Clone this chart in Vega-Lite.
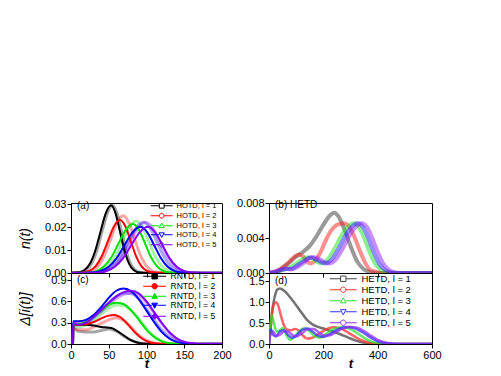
{
"$schema":"https://vega.github.io/schema/vega-lite/v6.json",
"padding":{"left":17,"top":196,"right":5,"bottom":0},
"background":"white",
"config":{"font":"Liberation Sans","view":{"stroke":"#000","strokeWidth":1},
"axis":{"labelFont":"Liberation Sans","labelFontSize":11,"labelColor":"#000","tickColor":"#000","domainColor":"#000","grid":false,"titleFont":"Liberation Sans","titleColor":"#000","titleFontSize":14,"titleFontStyle":"italic","titleFontWeight":"normal","tickSize":4,"labelFlush":false,"labelPadding":1}},
"resolve":{"scale":{"color":"independent","fill":"independent","shape":"independent","stroke":"independent","x":"independent","y":"independent"},"legend":{"color":"independent","fill":"independent","shape":"independent","stroke":"independent"}},
"datasets":{
"a":[
{"s":1,"k":"d","t":0,"v":0},{"s":1,"k":"d","t":4,"v":0.0001},{"s":1,"k":"d","t":11,"v":0.0003},{"s":1,"k":"d","t":18,"v":0.0013},{"s":1,"k":"d","t":25,"v":0.004},{"s":1,"k":"d","t":32,"v":0.0096},{"s":1,"k":"d","t":39,"v":0.0179},{"s":1,"k":"d","t":46,"v":0.026},{"s":1,"k":"d","t":53,"v":0.0295},{"s":1,"k":"d","t":59,"v":0.026},{"s":1,"k":"d","t":65,"v":0.0179},{"s":1,"k":"d","t":71,"v":0.0096},{"s":1,"k":"d","t":77,"v":0.004},{"s":1,"k":"d","t":83,"v":0.0013},{"s":1,"k":"d","t":89,"v":0.0003},{"s":1,"k":"d","t":95,"v":0.0001},{"s":1,"k":"d","t":110,"v":0},{"s":1,"k":"d","t":200,"v":0},
{"s":1,"k":"l","t":0,"v":0},{"s":1,"k":"l","t":6,"v":0.0001},{"s":1,"k":"l","t":13,"v":0.0003},{"s":1,"k":"l","t":20,"v":0.0013},{"s":1,"k":"l","t":27,"v":0.004},{"s":1,"k":"l","t":34,"v":0.0096},{"s":1,"k":"l","t":41,"v":0.0179},{"s":1,"k":"l","t":48,"v":0.026},{"s":1,"k":"l","t":55,"v":0.0295},{"s":1,"k":"l","t":61,"v":0.026},{"s":1,"k":"l","t":67,"v":0.0179},{"s":1,"k":"l","t":73,"v":0.0096},{"s":1,"k":"l","t":79,"v":0.004},{"s":1,"k":"l","t":85,"v":0.0013},{"s":1,"k":"l","t":91,"v":0.0003},{"s":1,"k":"l","t":97,"v":0.0001},{"s":1,"k":"l","t":110,"v":0},{"s":1,"k":"l","t":200,"v":0},
{"s":2,"k":"d","t":0,"v":0},{"s":2,"k":"d","t":9,"v":0.0001},{"s":2,"k":"d","t":17,"v":0.0003},{"s":2,"k":"d","t":25,"v":0.001},{"s":2,"k":"d","t":33,"v":0.0031},{"s":2,"k":"d","t":41,"v":0.0075},{"s":2,"k":"d","t":49,"v":0.014},{"s":2,"k":"d","t":57,"v":0.0204},{"s":2,"k":"d","t":65,"v":0.0231},{"s":2,"k":"d","t":72,"v":0.0204},{"s":2,"k":"d","t":79,"v":0.014},{"s":2,"k":"d","t":86,"v":0.0075},{"s":2,"k":"d","t":93,"v":0.0031},{"s":2,"k":"d","t":100,"v":0.001},{"s":2,"k":"d","t":107,"v":0.0003},{"s":2,"k":"d","t":114,"v":0.0001},{"s":2,"k":"d","t":130,"v":0},{"s":2,"k":"d","t":200,"v":0},
{"s":2,"k":"l","t":0,"v":0},{"s":2,"k":"l","t":13,"v":0.0001},{"s":2,"k":"l","t":21,"v":0.0003},{"s":2,"k":"l","t":29,"v":0.0011},{"s":2,"k":"l","t":37,"v":0.0034},{"s":2,"k":"l","t":45,"v":0.0081},{"s":2,"k":"l","t":53,"v":0.0151},{"s":2,"k":"l","t":61,"v":0.022},{"s":2,"k":"l","t":69,"v":0.0249},{"s":2,"k":"l","t":76.5,"v":0.022},{"s":2,"k":"l","t":84,"v":0.0151},{"s":2,"k":"l","t":91.5,"v":0.0081},{"s":2,"k":"l","t":99,"v":0.0034},{"s":2,"k":"l","t":106.5,"v":0.0011},{"s":2,"k":"l","t":114,"v":0.0003},{"s":2,"k":"l","t":121.5,"v":0.0001},{"s":2,"k":"l","t":135,"v":0},{"s":2,"k":"l","t":200,"v":0},
{"s":3,"k":"d","t":0,"v":0},{"s":3,"k":"d","t":15,"v":0.0001},{"s":3,"k":"d","t":25,"v":0.0002},{"s":3,"k":"d","t":34.5,"v":0.0009},{"s":3,"k":"d","t":44,"v":0.0029},{"s":3,"k":"d","t":53.5,"v":0.0069},{"s":3,"k":"d","t":63,"v":0.0129},{"s":3,"k":"d","t":72.5,"v":0.0188},{"s":3,"k":"d","t":82,"v":0.0213},{"s":3,"k":"d","t":90,"v":0.0188},{"s":3,"k":"d","t":98,"v":0.0129},{"s":3,"k":"d","t":106,"v":0.0069},{"s":3,"k":"d","t":114,"v":0.0029},{"s":3,"k":"d","t":122,"v":0.0009},{"s":3,"k":"d","t":130,"v":0.0002},{"s":3,"k":"d","t":145,"v":0},{"s":3,"k":"d","t":200,"v":0},
{"s":3,"k":"l","t":0,"v":0},{"s":3,"k":"l","t":23,"v":0.0001},{"s":3,"k":"l","t":32,"v":0.0003},{"s":3,"k":"l","t":41,"v":0.001},{"s":3,"k":"l","t":50,"v":0.0031},{"s":3,"k":"l","t":59,"v":0.0074},{"s":3,"k":"l","t":68,"v":0.0138},{"s":3,"k":"l","t":77,"v":0.02},{"s":3,"k":"l","t":86,"v":0.0227},{"s":3,"k":"l","t":94.5,"v":0.02},{"s":3,"k":"l","t":103,"v":0.0138},{"s":3,"k":"l","t":111.5,"v":0.0074},{"s":3,"k":"l","t":120,"v":0.0031},{"s":3,"k":"l","t":128.5,"v":0.001},{"s":3,"k":"l","t":137,"v":0.0003},{"s":3,"k":"l","t":145.5,"v":0.0001},{"s":3,"k":"l","t":160,"v":0},{"s":3,"k":"l","t":200,"v":0},
{"s":4,"k":"d","t":0,"v":0},{"s":4,"k":"d","t":18,"v":0.0001},{"s":4,"k":"d","t":29,"v":0.0002},{"s":4,"k":"d","t":39.5,"v":0.0009},{"s":4,"k":"d","t":50,"v":0.0027},{"s":4,"k":"d","t":60.5,"v":0.0065},{"s":4,"k":"d","t":71,"v":0.0122},{"s":4,"k":"d","t":81.5,"v":0.0177},{"s":4,"k":"d","t":92,"v":0.0201},{"s":4,"k":"d","t":101,"v":0.0177},{"s":4,"k":"d","t":110,"v":0.0122},{"s":4,"k":"d","t":119,"v":0.0065},{"s":4,"k":"d","t":128,"v":0.0027},{"s":4,"k":"d","t":137,"v":0.0009},{"s":4,"k":"d","t":146,"v":0.0002},{"s":4,"k":"d","t":160,"v":0},{"s":4,"k":"d","t":200,"v":0},
{"s":4,"k":"l","t":0,"v":0},{"s":4,"k":"l","t":26,"v":0.0001},{"s":4,"k":"l","t":36,"v":0.0002},{"s":4,"k":"l","t":46,"v":0.001},{"s":4,"k":"l","t":56,"v":0.003},{"s":4,"k":"l","t":66,"v":0.0072},{"s":4,"k":"l","t":76,"v":0.0134},{"s":4,"k":"l","t":86,"v":0.0195},{"s":4,"k":"l","t":96,"v":0.0221},{"s":4,"k":"l","t":105,"v":0.0195},{"s":4,"k":"l","t":114,"v":0.0134},{"s":4,"k":"l","t":123,"v":0.0072},{"s":4,"k":"l","t":132,"v":0.003},{"s":4,"k":"l","t":141,"v":0.001},{"s":4,"k":"l","t":150,"v":0.0002},{"s":4,"k":"l","t":165,"v":0},{"s":4,"k":"l","t":200,"v":0},
{"s":5,"k":"d","t":0,"v":0},{"s":5,"k":"d","t":25,"v":0.0001},{"s":5,"k":"d","t":36,"v":0.0002},{"s":5,"k":"d","t":47,"v":0.0009},{"s":5,"k":"d","t":58,"v":0.0027},{"s":5,"k":"d","t":69,"v":0.0065},{"s":5,"k":"d","t":80,"v":0.0122},{"s":5,"k":"d","t":91,"v":0.0177},{"s":5,"k":"d","t":102,"v":0.0201},{"s":5,"k":"d","t":111.5,"v":0.0177},{"s":5,"k":"d","t":121,"v":0.0122},{"s":5,"k":"d","t":130.5,"v":0.0065},{"s":5,"k":"d","t":140,"v":0.0027},{"s":5,"k":"d","t":149.5,"v":0.0009},{"s":5,"k":"d","t":159,"v":0.0002},{"s":5,"k":"d","t":175,"v":0},{"s":5,"k":"d","t":200,"v":0},
{"s":5,"k":"l","t":0,"v":0},{"s":5,"k":"l","t":25,"v":0.0001},{"s":5,"k":"l","t":36,"v":0.0002},{"s":5,"k":"l","t":46.5,"v":0.001},{"s":5,"k":"l","t":57,"v":0.003},{"s":5,"k":"l","t":67.5,"v":0.0072},{"s":5,"k":"l","t":78,"v":0.0134},{"s":5,"k":"l","t":88.5,"v":0.0195},{"s":5,"k":"l","t":99,"v":0.0221},{"s":5,"k":"l","t":108.5,"v":0.0195},{"s":5,"k":"l","t":118,"v":0.0134},{"s":5,"k":"l","t":127.5,"v":0.0072},{"s":5,"k":"l","t":137,"v":0.003},{"s":5,"k":"l","t":146.5,"v":0.001},{"s":5,"k":"l","t":156,"v":0.0002},{"s":5,"k":"l","t":170,"v":0},{"s":5,"k":"l","t":200,"v":0}
],
"b":[
{"s":1,"t":0,"v":0},{"s":1,"t":25,"v":0.0001},{"s":1,"t":50,"v":0.0006},{"s":1,"t":75,"v":0.0012},{"s":1,"t":100,"v":0.0019},{"s":1,"t":125,"v":0.0024},{"s":1,"t":150,"v":0.0031},{"s":1,"t":175,"v":0.0042},{"s":1,"t":200,"v":0.0055},{"s":1,"t":225,"v":0.0066},{"s":1,"t":240,"v":0.0069},{"s":1,"t":255,"v":0.0065},{"s":1,"t":275,"v":0.0052},{"s":1,"t":300,"v":0.0031},{"s":1,"t":325,"v":0.0013},{"s":1,"t":350,"v":0.0004},{"s":1,"t":375,"v":0.0001},{"s":1,"t":400,"v":0},{"s":1,"t":600,"v":0},
{"s":2,"t":0,"v":0},{"s":2,"t":25,"v":0.0002},{"s":2,"t":50,"v":0.0006},{"s":2,"t":75,"v":0.0013},{"s":2,"t":100,"v":0.002},{"s":2,"t":112,"v":0.0021},{"s":2,"t":125,"v":0.0019},{"s":2,"t":140,"v":0.0013},{"s":2,"t":155,"v":0.0011},{"s":2,"t":170,"v":0.0014},{"s":2,"t":190,"v":0.0024},{"s":2,"t":210,"v":0.0038},{"s":2,"t":230,"v":0.0049},{"s":2,"t":250,"v":0.0055},{"s":2,"t":275,"v":0.0057},{"s":2,"t":295,"v":0.0053},{"s":2,"t":315,"v":0.0041},{"s":2,"t":335,"v":0.0025},{"s":2,"t":355,"v":0.0011},{"s":2,"t":375,"v":0.0003},{"s":2,"t":400,"v":0.0001},{"s":2,"t":425,"v":0},{"s":2,"t":600,"v":0},
{"s":3,"t":0,"v":0},{"s":3,"t":25,"v":0.0001},{"s":3,"t":50,"v":0.0003},{"s":3,"t":75,"v":0.0006},{"s":3,"t":100,"v":0.0011},{"s":3,"t":125,"v":0.0016},{"s":3,"t":140,"v":0.0018},{"s":3,"t":160,"v":0.0016},{"s":3,"t":180,"v":0.0012},{"s":3,"t":195,"v":0.0011},{"s":3,"t":215,"v":0.0015},{"s":3,"t":240,"v":0.0027},{"s":3,"t":265,"v":0.0042},{"s":3,"t":290,"v":0.0053},{"s":3,"t":310,"v":0.0057},{"s":3,"t":330,"v":0.0053},{"s":3,"t":350,"v":0.004},{"s":3,"t":370,"v":0.0024},{"s":3,"t":390,"v":0.0011},{"s":3,"t":410,"v":0.0004},{"s":3,"t":430,"v":0.0001},{"s":3,"t":450,"v":0},{"s":3,"t":600,"v":0},
{"s":4,"t":0,"v":0},{"s":4,"t":25,"v":0.0001},{"s":4,"t":50,"v":0.0004},{"s":4,"t":65,"v":0.0005},{"s":4,"t":85,"v":0.0005},{"s":4,"t":100,"v":0.0008},{"s":4,"t":125,"v":0.0013},{"s":4,"t":155,"v":0.0018},{"s":4,"t":175,"v":0.0015},{"s":4,"t":195,"v":0.0012},{"s":4,"t":210,"v":0.0011},{"s":4,"t":230,"v":0.0015},{"s":4,"t":255,"v":0.0027},{"s":4,"t":280,"v":0.0042},{"s":4,"t":305,"v":0.0053},{"s":4,"t":325,"v":0.0057},{"s":4,"t":345,"v":0.0053},{"s":4,"t":365,"v":0.004},{"s":4,"t":385,"v":0.0024},{"s":4,"t":405,"v":0.0011},{"s":4,"t":425,"v":0.0004},{"s":4,"t":445,"v":0.0001},{"s":4,"t":465,"v":0},{"s":4,"t":600,"v":0},
{"s":5,"t":0,"v":0},{"s":5,"t":25,"v":0.0002},{"s":5,"t":45,"v":0.0004},{"s":5,"t":60,"v":0.0005},{"s":5,"t":80,"v":0.0004},{"s":5,"t":100,"v":0.0006},{"s":5,"t":125,"v":0.0011},{"s":5,"t":150,"v":0.0017},{"s":5,"t":168,"v":0.0018},{"s":5,"t":190,"v":0.0015},{"s":5,"t":210,"v":0.0012},{"s":5,"t":225,"v":0.0011},{"s":5,"t":245,"v":0.0015},{"s":5,"t":270,"v":0.0027},{"s":5,"t":295,"v":0.0042},{"s":5,"t":320,"v":0.0053},{"s":5,"t":340,"v":0.0057},{"s":5,"t":360,"v":0.0053},{"s":5,"t":380,"v":0.004},{"s":5,"t":400,"v":0.0024},{"s":5,"t":420,"v":0.0011},{"s":5,"t":440,"v":0.0004},{"s":5,"t":460,"v":0.0001},{"s":5,"t":480,"v":0},{"s":5,"t":600,"v":0}
],
"c":[
{"s":1,"k":"d","t":0,"v":0},{"s":1,"k":"d","t":2,"v":0},{"s":1,"k":"d","t":3,"v":0.27},{"s":1,"k":"d","t":10,"v":0.27},{"s":1,"k":"d","t":20,"v":0.27},{"s":1,"k":"d","t":30,"v":0.26},{"s":1,"k":"d","t":40,"v":0.24},{"s":1,"k":"d","t":50,"v":0.23},{"s":1,"k":"d","t":55,"v":0.22},{"s":1,"k":"d","t":60,"v":0.19},{"s":1,"k":"d","t":70,"v":0.12},{"s":1,"k":"d","t":80,"v":0.05},{"s":1,"k":"d","t":90,"v":0.015},{"s":1,"k":"d","t":100,"v":0.003},{"s":1,"k":"d","t":110,"v":0},{"s":1,"k":"d","t":200,"v":0},
{"s":1,"k":"l","t":0,"v":0},{"s":1,"k":"l","t":2,"v":0},{"s":1,"k":"l","t":3,"v":0.22},{"s":1,"k":"l","t":10,"v":0.18},{"s":1,"k":"l","t":20,"v":0.17},{"s":1,"k":"l","t":30,"v":0.17},{"s":1,"k":"l","t":40,"v":0.19},{"s":1,"k":"l","t":50,"v":0.21},{"s":1,"k":"l","t":60,"v":0.18},{"s":1,"k":"l","t":70,"v":0.11},{"s":1,"k":"l","t":80,"v":0.05},{"s":1,"k":"l","t":90,"v":0.015},{"s":1,"k":"l","t":100,"v":0.003},{"s":1,"k":"l","t":110,"v":0},{"s":1,"k":"l","t":200,"v":0},
{"s":2,"k":"d","t":0,"v":0},{"s":2,"k":"d","t":2,"v":0},{"s":2,"k":"d","t":3,"v":0.27},{"s":2,"k":"d","t":10,"v":0.27},{"s":2,"k":"d","t":20,"v":0.28},{"s":2,"k":"d","t":30,"v":0.31},{"s":2,"k":"d","t":40,"v":0.36},{"s":2,"k":"d","t":50,"v":0.4},{"s":2,"k":"d","t":57,"v":0.41},{"s":2,"k":"d","t":65,"v":0.38},{"s":2,"k":"d","t":75,"v":0.28},{"s":2,"k":"d","t":85,"v":0.16},{"s":2,"k":"d","t":95,"v":0.07},{"s":2,"k":"d","t":105,"v":0.02},{"s":2,"k":"d","t":115,"v":0.005},{"s":2,"k":"d","t":125,"v":0},{"s":2,"k":"d","t":200,"v":0},
{"s":2,"k":"l","t":0,"v":0},{"s":2,"k":"l","t":2,"v":0},{"s":2,"k":"l","t":3,"v":0.22},{"s":2,"k":"l","t":10,"v":0.2},{"s":2,"k":"l","t":20,"v":0.2},{"s":2,"k":"l","t":30,"v":0.24},{"s":2,"k":"l","t":40,"v":0.29},{"s":2,"k":"l","t":50,"v":0.34},{"s":2,"k":"l","t":60,"v":0.37},{"s":2,"k":"l","t":70,"v":0.33},{"s":2,"k":"l","t":80,"v":0.23},{"s":2,"k":"l","t":90,"v":0.12},{"s":2,"k":"l","t":100,"v":0.05},{"s":2,"k":"l","t":110,"v":0.015},{"s":2,"k":"l","t":120,"v":0.003},{"s":2,"k":"l","t":130,"v":0},{"s":2,"k":"l","t":200,"v":0},
{"s":3,"k":"d","t":0,"v":0},{"s":3,"k":"d","t":2,"v":0},{"s":3,"k":"d","t":3,"v":0.28},{"s":3,"k":"d","t":10,"v":0.28},{"s":3,"k":"d","t":20,"v":0.31},{"s":3,"k":"d","t":30,"v":0.38},{"s":3,"k":"d","t":40,"v":0.47},{"s":3,"k":"d","t":50,"v":0.55},{"s":3,"k":"d","t":60,"v":0.58},{"s":3,"k":"d","t":70,"v":0.56},{"s":3,"k":"d","t":80,"v":0.47},{"s":3,"k":"d","t":90,"v":0.34},{"s":3,"k":"d","t":100,"v":0.2},{"s":3,"k":"d","t":110,"v":0.1},{"s":3,"k":"d","t":120,"v":0.04},{"s":3,"k":"d","t":130,"v":0.01},{"s":3,"k":"d","t":140,"v":0},{"s":3,"k":"d","t":200,"v":0},
{"s":3,"k":"l","t":0,"v":0},{"s":3,"k":"l","t":2,"v":0},{"s":3,"k":"l","t":3,"v":0.25},{"s":3,"k":"l","t":10,"v":0.24},{"s":3,"k":"l","t":20,"v":0.27},{"s":3,"k":"l","t":30,"v":0.33},{"s":3,"k":"l","t":40,"v":0.42},{"s":3,"k":"l","t":50,"v":0.5},{"s":3,"k":"l","t":60,"v":0.55},{"s":3,"k":"l","t":70,"v":0.54},{"s":3,"k":"l","t":80,"v":0.47},{"s":3,"k":"l","t":90,"v":0.35},{"s":3,"k":"l","t":100,"v":0.22},{"s":3,"k":"l","t":110,"v":0.11},{"s":3,"k":"l","t":120,"v":0.04},{"s":3,"k":"l","t":130,"v":0.01},{"s":3,"k":"l","t":140,"v":0},{"s":3,"k":"l","t":200,"v":0},
{"s":4,"k":"d","t":0,"v":0},{"s":4,"k":"d","t":2,"v":0},{"s":4,"k":"d","t":3,"v":0.32},{"s":4,"k":"d","t":10,"v":0.32},{"s":4,"k":"d","t":20,"v":0.34},{"s":4,"k":"d","t":30,"v":0.41},{"s":4,"k":"d","t":40,"v":0.52},{"s":4,"k":"d","t":50,"v":0.65},{"s":4,"k":"d","t":60,"v":0.75},{"s":4,"k":"d","t":70,"v":0.78},{"s":4,"k":"d","t":80,"v":0.74},{"s":4,"k":"d","t":90,"v":0.63},{"s":4,"k":"d","t":100,"v":0.47},{"s":4,"k":"d","t":110,"v":0.31},{"s":4,"k":"d","t":120,"v":0.17},{"s":4,"k":"d","t":130,"v":0.08},{"s":4,"k":"d","t":140,"v":0.03},{"s":4,"k":"d","t":150,"v":0.01},{"s":4,"k":"d","t":160,"v":0},{"s":4,"k":"d","t":200,"v":0},
{"s":4,"k":"l","t":0,"v":0},{"s":4,"k":"l","t":2,"v":0},{"s":4,"k":"l","t":3,"v":0.27},{"s":4,"k":"l","t":10,"v":0.27},{"s":4,"k":"l","t":20,"v":0.3},{"s":4,"k":"l","t":30,"v":0.37},{"s":4,"k":"l","t":40,"v":0.47},{"s":4,"k":"l","t":50,"v":0.58},{"s":4,"k":"l","t":60,"v":0.67},{"s":4,"k":"l","t":70,"v":0.72},{"s":4,"k":"l","t":80,"v":0.71},{"s":4,"k":"l","t":90,"v":0.63},{"s":4,"k":"l","t":100,"v":0.49},{"s":4,"k":"l","t":110,"v":0.34},{"s":4,"k":"l","t":120,"v":0.2},{"s":4,"k":"l","t":130,"v":0.1},{"s":4,"k":"l","t":140,"v":0.04},{"s":4,"k":"l","t":150,"v":0.01},{"s":4,"k":"l","t":160,"v":0},{"s":4,"k":"l","t":200,"v":0},
{"s":5,"k":"d","t":0,"v":0},{"s":5,"k":"d","t":2,"v":0},{"s":5,"k":"d","t":3,"v":0.3},{"s":5,"k":"d","t":10,"v":0.27},{"s":5,"k":"d","t":20,"v":0.3},{"s":5,"k":"d","t":30,"v":0.38},{"s":5,"k":"d","t":40,"v":0.48},{"s":5,"k":"d","t":50,"v":0.58},{"s":5,"k":"d","t":60,"v":0.67},{"s":5,"k":"d","t":70,"v":0.73},{"s":5,"k":"d","t":80,"v":0.75},{"s":5,"k":"d","t":90,"v":0.71},{"s":5,"k":"d","t":100,"v":0.6},{"s":5,"k":"d","t":110,"v":0.45},{"s":5,"k":"d","t":120,"v":0.3},{"s":5,"k":"d","t":130,"v":0.17},{"s":5,"k":"d","t":140,"v":0.08},{"s":5,"k":"d","t":150,"v":0.03},{"s":5,"k":"d","t":160,"v":0.01},{"s":5,"k":"d","t":170,"v":0},{"s":5,"k":"d","t":200,"v":0},
{"s":5,"k":"l","t":0,"v":0},{"s":5,"k":"l","t":2,"v":0},{"s":5,"k":"l","t":3,"v":0.25},{"s":5,"k":"l","t":10,"v":0.3},{"s":5,"k":"l","t":20,"v":0.33},{"s":5,"k":"l","t":30,"v":0.4},{"s":5,"k":"l","t":40,"v":0.46},{"s":5,"k":"l","t":50,"v":0.55},{"s":5,"k":"l","t":60,"v":0.64},{"s":5,"k":"l","t":70,"v":0.7},{"s":5,"k":"l","t":80,"v":0.72},{"s":5,"k":"l","t":90,"v":0.69},{"s":5,"k":"l","t":100,"v":0.58},{"s":5,"k":"l","t":110,"v":0.44},{"s":5,"k":"l","t":120,"v":0.29},{"s":5,"k":"l","t":130,"v":0.16},{"s":5,"k":"l","t":140,"v":0.07},{"s":5,"k":"l","t":150,"v":0.03},{"s":5,"k":"l","t":160,"v":0.01},{"s":5,"k":"l","t":170,"v":0},{"s":5,"k":"l","t":200,"v":0}
],
"d":[
{"s":1,"t":0,"v":0},{"s":1,"t":5,"v":0.3},{"s":1,"t":10,"v":0.7},{"s":1,"t":20,"v":1.1},{"s":1,"t":30,"v":1.3},{"s":1,"t":40,"v":1.33},{"s":1,"t":60,"v":1.25},{"s":1,"t":80,"v":1.1},{"s":1,"t":100,"v":0.93},{"s":1,"t":120,"v":0.75},{"s":1,"t":140,"v":0.58},{"s":1,"t":160,"v":0.47},{"s":1,"t":180,"v":0.41},{"s":1,"t":200,"v":0.37},{"s":1,"t":230,"v":0.31},{"s":1,"t":260,"v":0.24},{"s":1,"t":290,"v":0.16},{"s":1,"t":320,"v":0.08},{"s":1,"t":350,"v":0.03},{"s":1,"t":380,"v":0.005},{"s":1,"t":400,"v":0},{"s":1,"t":600,"v":0},
{"s":2,"t":0,"v":0},{"s":2,"t":5,"v":0.3},{"s":2,"t":10,"v":0.65},{"s":2,"t":18,"v":0.95},{"s":2,"t":25,"v":1.0},{"s":2,"t":35,"v":0.9},{"s":2,"t":45,"v":0.65},{"s":2,"t":55,"v":0.45},{"s":2,"t":65,"v":0.35},{"s":2,"t":80,"v":0.33},{"s":2,"t":95,"v":0.36},{"s":2,"t":110,"v":0.32},{"s":2,"t":125,"v":0.2},{"s":2,"t":140,"v":0.13},{"s":2,"t":160,"v":0.15},{"s":2,"t":185,"v":0.25},{"s":2,"t":210,"v":0.35},{"s":2,"t":235,"v":0.4},{"s":2,"t":260,"v":0.38},{"s":2,"t":285,"v":0.3},{"s":2,"t":310,"v":0.2},{"s":2,"t":340,"v":0.09},{"s":2,"t":370,"v":0.03},{"s":2,"t":400,"v":0.005},{"s":2,"t":420,"v":0},{"s":2,"t":600,"v":0},
{"s":3,"t":0,"v":0},{"s":3,"t":4,"v":0.4},{"s":3,"t":10,"v":0.7},{"s":3,"t":18,"v":0.5},{"s":3,"t":28,"v":0.3},{"s":3,"t":40,"v":0.33},{"s":3,"t":52,"v":0.38},{"s":3,"t":65,"v":0.2},{"s":3,"t":78,"v":0.1},{"s":3,"t":95,"v":0.18},{"s":3,"t":115,"v":0.33},{"s":3,"t":130,"v":0.38},{"s":3,"t":150,"v":0.3},{"s":3,"t":170,"v":0.18},{"s":3,"t":185,"v":0.15},{"s":3,"t":205,"v":0.22},{"s":3,"t":230,"v":0.33},{"s":3,"t":255,"v":0.39},{"s":3,"t":280,"v":0.4},{"s":3,"t":305,"v":0.34},{"s":3,"t":330,"v":0.24},{"s":3,"t":355,"v":0.13},{"s":3,"t":380,"v":0.05},{"s":3,"t":410,"v":0.015},{"s":3,"t":440,"v":0},{"s":3,"t":600,"v":0},
{"s":4,"t":0,"v":0},{"s":4,"t":3,"v":0.3},{"s":4,"t":8,"v":0.35},{"s":4,"t":15,"v":0.22},{"s":4,"t":25,"v":0.18},{"s":4,"t":40,"v":0.3},{"s":4,"t":55,"v":0.33},{"s":4,"t":70,"v":0.22},{"s":4,"t":85,"v":0.15},{"s":4,"t":100,"v":0.2},{"s":4,"t":120,"v":0.33},{"s":4,"t":140,"v":0.37},{"s":4,"t":160,"v":0.3},{"s":4,"t":180,"v":0.2},{"s":4,"t":200,"v":0.17},{"s":4,"t":220,"v":0.22},{"s":4,"t":245,"v":0.32},{"s":4,"t":270,"v":0.39},{"s":4,"t":295,"v":0.41},{"s":4,"t":320,"v":0.37},{"s":4,"t":345,"v":0.28},{"s":4,"t":370,"v":0.17},{"s":4,"t":395,"v":0.08},{"s":4,"t":420,"v":0.03},{"s":4,"t":450,"v":0.005},{"s":4,"t":470,"v":0},{"s":4,"t":600,"v":0},
{"s":5,"t":0,"v":0},{"s":5,"t":3,"v":0.18},{"s":5,"t":8,"v":0.25},{"s":5,"t":15,"v":0.3},{"s":5,"t":25,"v":0.2},{"s":5,"t":40,"v":0.22},{"s":5,"t":55,"v":0.3},{"s":5,"t":70,"v":0.3},{"s":5,"t":85,"v":0.22},{"s":5,"t":100,"v":0.18},{"s":5,"t":120,"v":0.25},{"s":5,"t":145,"v":0.36},{"s":5,"t":165,"v":0.36},{"s":5,"t":185,"v":0.27},{"s":5,"t":205,"v":0.2},{"s":5,"t":225,"v":0.21},{"s":5,"t":250,"v":0.3},{"s":5,"t":275,"v":0.38},{"s":5,"t":300,"v":0.41},{"s":5,"t":325,"v":0.39},{"s":5,"t":350,"v":0.31},{"s":5,"t":375,"v":0.2},{"s":5,"t":400,"v":0.1},{"s":5,"t":425,"v":0.04},{"s":5,"t":450,"v":0.01},{"s":5,"t":480,"v":0},{"s":5,"t":600,"v":0}
]
},
"columns":2,
"spacing":{"row":0,"column":47},
"bounds":"flush",
"align":"each",
"concat":[
{"width":151,"height":70,
"title":{"text":"(a)","anchor":"start","frame":"group","offset":-13,"dx":6,"fontSize":10,"fontWeight":"normal","font":"Liberation Sans","color":"#000"},
"data":{"name":"a"},
"encoding":{
"x":{"field":"t","type":"quantitative","scale":{"domain":[0,200],"nice":false},"axis":{"values":[0,50,100,150,200],"labels":false,"title":null}},
"y":{"field":"v","type":"quantitative","scale":{"domain":[0,0.0305],"nice":false},"axis":{"values":[0,0.01,0.02,0.03],"format":".2f","title":"n(t)","titlePadding":3,"minExtent":36,"maxExtent":36}}},
"layer":[
{"transform":[{"filter":"datum.k=='l'"}],"mark":{"type":"line","interpolate":"monotone","strokeWidth":3,"opacity":0.35,"clip":true},"encoding":{"stroke":{"field":"s","type":"nominal","scale":{"domain":[5,4,3,2,1],"range":["#8000ff","#0000ff","#00e000","#ff0000","#000000"]},"legend":null}}},
{"transform":[{"filter":"datum.k=='d'"}],"mark":{"type":"line","interpolate":"monotone","strokeWidth":2,"clip":true},"encoding":{"stroke":{"field":"s","type":"nominal","scale":{"domain":[5,4,3,2,1],"range":["#8000ff","#0000ff","#00e000","#ff0000","#000000"]},"legend":null}}},
{"transform":[{"filter":"datum.k=='d'"}],"mark":{"type":"point","filled":false,"opacity":0},"encoding":{
"color":{"field":"s","type":"nominal","scale":{"domain":[1,2,3,4,5],"range":["#000000","#ff0000","#00e000","#0000ff","#8000ff"]},"legend":{"title":null,"orient":"none","legendX":79,"legendY":-1,"labelFontSize":7.5,"labelFont":"Liberation Sans","labelColor":"#000","symbolSize":36,"labelOffset":19,"rowPadding":0,"symbolOpacity":1,"symbolStrokeWidth":1,"padding":0,"labelExpr":"'HOTD, l = ' + datum.label"}},
"shape":{"field":"s","type":"nominal","scale":{"domain":[1,2,3,4,5],"range":["M-1,0H1.85M3.45,0H6.3M1.85,-0.8H3.45V0.8H1.85Z","M-1,0H1.85M3.45,0H6.3M1.85,0A0.8,0.8,0,1,0,3.45,0A0.8,0.8,0,1,0,1.85,0Z","M-1,0H1.85M3.45,0H6.3M2.65,-0.9L3.5,0.65H1.8Z","M-1,0H1.85M3.45,0H6.3M2.65,0.9L3.5,-0.65H1.8Z","M-1,0H1.75M3.55,0H6.3M2.65,-0.9L3.55,0L2.65,0.9L1.75,0Z"]},"legend":{"title":null,"orient":"none","legendX":79,"legendY":-1,"labelFontSize":7.5,"labelFont":"Liberation Sans","labelColor":"#000","symbolSize":36,"labelOffset":19,"rowPadding":0,"symbolOpacity":1,"symbolStrokeWidth":1,"padding":0,"labelExpr":"'HOTD, l = ' + datum.label"}}}}
]},
{"width":163,"height":70,
"title":{"text":"(b)  HETD","anchor":"start","frame":"group","offset":-13,"dx":6,"fontSize":10,"fontWeight":"normal","font":"Liberation Sans","color":"#000"},
"data":{"name":"b"},
"encoding":{
"x":{"field":"t","type":"quantitative","scale":{"domain":[0,600],"nice":false},"axis":{"values":[0,200,400,600],"labels":false,"title":null}},
"y":{"field":"v","type":"quantitative","scale":{"domain":[0,0.008],"nice":false},"axis":{"values":[0,0.004,0.008],"format":".3f","title":null,"minExtent":40,"maxExtent":40}}},
"layer":[
{"mark":{"type":"line","interpolate":"monotone","strokeWidth":4,"opacity":0.5,"clip":true},"encoding":{"stroke":{"field":"s","type":"nominal","scale":{"domain":[1,2,3,4,5],"range":["#333333","#ff2020","#20e020","#2020ff","#9020ff"]},"legend":null}}}
]},
{"width":151,"height":71,
"title":{"text":"(c)","anchor":"start","frame":"group","offset":-13,"dx":6,"fontSize":10,"fontWeight":"normal","font":"Liberation Sans","color":"#000"},
"data":{"name":"c"},
"encoding":{
"x":{"field":"t","type":"quantitative","scale":{"domain":[0,200],"nice":false},"axis":{"values":[0,50,100,150,200],"title":"t","titleFontWeight":"bold","titleFontSize":13,"titlePadding":-3}},
"y":{"field":"v","type":"quantitative","scale":{"domain":[0,1.0],"nice":false},"axis":{"values":[0,0.3,0.6,0.9],"format":".1f","title":"Δ[i(t)]","titlePadding":3,"minExtent":36,"maxExtent":36}}},
"layer":[
{"transform":[{"filter":"datum.k=='l'"}],"mark":{"type":"line","interpolate":"monotone","strokeWidth":3,"opacity":0.35,"clip":true},"encoding":{"stroke":{"field":"s","type":"nominal","scale":{"domain":[5,4,3,2,1],"range":["#8000ff","#0000ff","#00e000","#ff0000","#000000"]},"legend":null}}},
{"transform":[{"filter":"datum.k=='d'"}],"mark":{"type":"line","interpolate":"monotone","strokeWidth":2,"clip":true},"encoding":{"stroke":{"field":"s","type":"nominal","scale":{"domain":[5,4,3,2,1],"range":["#8000ff","#0000ff","#00e000","#ff0000","#000000"]},"legend":null}}},
{"transform":[{"filter":"datum.k=='d'"}],"mark":{"type":"point","filled":false,"opacity":0},"encoding":{
"color":{"field":"s","type":"nominal","scale":{"domain":[1,2,3,4,5],"range":["#000000","#ff0000","#00e000","#0000ff","#8000ff"]},"legend":{"title":null,"orient":"none","legendX":71,"legendY":-1,"labelFontSize":8.5,"labelFont":"Liberation Sans","labelColor":"#000","symbolSize":36,"labelOffset":20,"rowPadding":0,"symbolOpacity":1,"symbolStrokeWidth":1,"padding":0,"labelExpr":"'RNTD, l = ' + datum.label"}},
"fill":{"field":"s","type":"nominal","scale":{"domain":[1,2,3,4,5],"range":["#000000","#ff0000","#00e000","#0000ff","#8000ff"]},"legend":{"title":null,"orient":"none","legendX":71,"legendY":-1,"labelFontSize":8.5,"labelFont":"Liberation Sans","labelColor":"#000","symbolSize":36,"labelOffset":20,"rowPadding":0,"symbolOpacity":1,"symbolStrokeWidth":1,"padding":0,"labelExpr":"'RNTD, l = ' + datum.label"}},
"shape":{"field":"s","type":"nominal","scale":{"domain":[1,2,3,4,5],"range":["M-1,0H1.9M3.7,0H6.6M1.9,-0.9H3.7V0.9H1.9Z","M-1,0H1.9M3.7,0H6.6M1.9,0A0.9,0.9,0,1,0,3.7,0A0.9,0.9,0,1,0,1.9,0Z","M-1,0H1.9M3.7,0H6.6M2.8,-1L3.75,0.7H1.85Z","M-1,0H1.9M3.7,0H6.6M2.8,1L3.75,-0.7H1.85Z","M-1,0H1.8M3.8,0H6.6M2.8,-1L3.8,0L2.8,1L1.8,0Z"]},"legend":{"title":null,"orient":"none","legendX":71,"legendY":-1,"labelFontSize":8.5,"labelFont":"Liberation Sans","labelColor":"#000","symbolSize":36,"labelOffset":20,"rowPadding":0,"symbolOpacity":1,"symbolStrokeWidth":1,"padding":0,"labelExpr":"'RNTD, l = ' + datum.label"}}}}
]},
{"width":163,"height":71,
"title":{"text":"(d)","anchor":"start","frame":"group","offset":-13,"dx":6,"fontSize":10,"fontWeight":"normal","font":"Liberation Sans","color":"#000"},
"data":{"name":"d"},
"encoding":{
"x":{"field":"t","type":"quantitative","scale":{"domain":[0,600],"nice":false},"axis":{"values":[0,200,400,600],"title":"t","titleFontWeight":"bold","titleFontSize":13,"titlePadding":-3}},
"y":{"field":"v","type":"quantitative","scale":{"domain":[0,1.7],"nice":false},"axis":{"values":[0,0.5,1,1.5],"format":".1f","title":null,"minExtent":40,"maxExtent":40}}},
"layer":[
{"mark":{"type":"line","interpolate":"monotone","strokeWidth":2.5,"opacity":0.75,"clip":true},"encoding":{"stroke":{"field":"s","type":"nominal","scale":{"domain":[5,4,3,2,1],"range":["#9030ff","#3030ff","#30e030","#ff3030","#444444"]},"legend":null}}},
{"mark":{"type":"point","filled":false,"opacity":0},"encoding":{
"color":{"field":"s","type":"nominal","scale":{"domain":[1,2,3,4,5],"range":["#444444","#ff3030","#30e030","#3030ff","#9030ff"]},"legend":{"title":null,"orient":"none","legendX":59,"legendY":1,"labelFontSize":9.5,"labelFont":"Liberation Sans","labelColor":"#000","symbolSize":36,"labelOffset":24,"rowPadding":0,"symbolOpacity":1,"symbolStrokeWidth":1,"padding":0,"labelExpr":"'HETD, l = ' + datum.label"}},
"shape":{"field":"s","type":"nominal","scale":{"domain":[1,2,3,4,5],"range":["M-1,0H2.6M4.4,0H8M2.6,-0.9H4.4V0.9H2.6Z","M-1,0H2.6M4.4,0H8M2.6,0A0.9,0.9,0,1,0,4.4,0A0.9,0.9,0,1,0,2.6,0Z","M-1,0H2.6M4.4,0H8M3.5,-1L4.45,0.7H2.55Z","M-1,0H2.6M4.4,0H8M3.5,1L4.45,-0.7H2.55Z","M-1,0H2.6M4.4,0H8M2.6,0A0.9,0.9,0,1,0,4.4,0A0.9,0.9,0,1,0,2.6,0Z"]},"legend":{"title":null,"orient":"none","legendX":59,"legendY":1,"labelFontSize":9.5,"labelFont":"Liberation Sans","labelColor":"#000","symbolSize":36,"labelOffset":24,"rowPadding":0,"symbolOpacity":1,"symbolStrokeWidth":1,"padding":0,"labelExpr":"'HETD, l = ' + datum.label"}}}}
]}
]
}
